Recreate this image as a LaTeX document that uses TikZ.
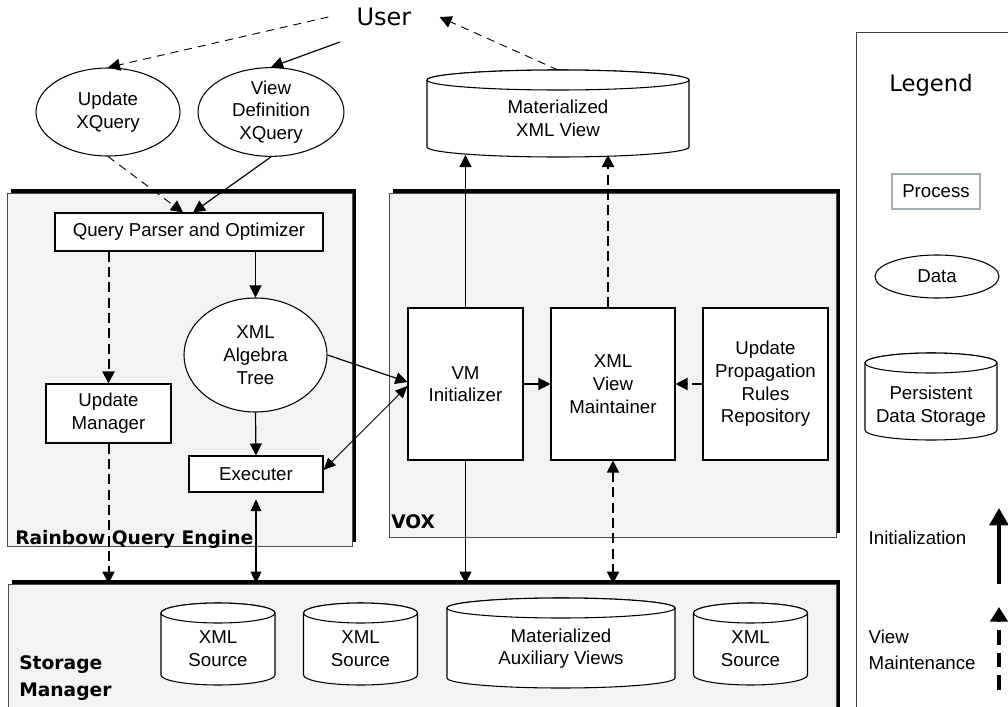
\documentclass[tikz,border=0pt]{standalone}
\usepackage{fontspec}
\setmainfont{Liberation Sans}
\newfontfamily\handfont{DejaVu Sans}
\usetikzlibrary{arrows.meta,positioning,shapes.geometric,shadows}

\definecolor{panelgray}{RGB}{242,243,242}
\definecolor{legendedge}{RGB}{160,176,180}

\def\ry{10}
% cylinder: name, centre x, top y, side bottom y, half width, text y, text
\newcommand{\datastore}[7]{%
  \draw[store] ({#2-#5},{-#3-\ry}) -- ({#2-#5},{-#4})
    arc[start angle=180,end angle=360,x radius=#5,y radius=\ry]
    -- ({#2+#5},{-#3-\ry})
    arc[start angle=0,end angle=180,x radius=#5,y radius=\ry] -- cycle;
  \draw[store] (#2,{-#3-\ry}) ellipse[x radius=#5,y radius=\ry];
  \node (#1) at (#2,-#6) {#7};
  \coordinate (#1-top) at (#2,-#3);
  \coordinate (#1-base) at (#2,{-#4-0.8*\ry});
}

\begin{document}
\begin{tikzpicture}[x=0.75pt,y=0.75pt,
  every node/.style={font=\fontsize{14}{17}\selectfont,align=center},
  process/.style={draw,fill=white,line width=0.8pt,inner sep=0pt},
  data/.style={draw,fill=white,ellipse,line width=0.8pt,inner sep=0pt},
  store/.style={draw,fill=white,line width=0.8pt},
  panel/.style={draw=black!70,fill=panelgray,line width=0.6pt,inner sep=0pt,
    drop shadow={shadow xshift=3pt,shadow yshift=3pt,fill=black,opacity=1}},
  hand/.style={font=\handfont\bfseries\fontsize{14}{17}\selectfont,align=left,inner sep=0pt},
  init/.style={-{Triangle[length=9pt,width=9pt]},line width=0.9pt},
  maint/.style={init,dash pattern=on 7.5pt off 4pt,line width=1.5pt},
  ask/.style={init,dash pattern=on 6pt off 4.5pt,line width=0.7pt},
  both/.style={{Triangle[length=9pt,width=8pt]}-{Triangle[length=9pt,width=8pt]},line width=0.6pt},
]
\useasboundingbox (0,0) rectangle (1008,-707);

% frames
\node[panel,minimum width=258.75pt,minimum height=264.75pt] (rqe) at (179.5,-369.5) {};
\node[panel,minimum width=335.25pt,minimum height=258pt] (vox) at (612.5,-365) {};
\node[panel,minimum width=621pt,minimum height=109.5pt] (smg) at (422,-657) {};
\node[draw=black!75,line width=0.7pt,minimum width=119.25pt,minimum height=516pt] (lgd) at (935.5,-376) {};

\node[hand,anchor=base west] (rqe-title) at (15,-544) {Rainbow Query Engine};
\node[hand,anchor=base west] (vox-title) at (391,-528) {VOX};
\node[hand,anchor=west,font=\handfont\bfseries\fontsize{14}{20}\selectfont] (smg-title) at (19,-678) {Storage\\Manager};

% user side
\node[font=\handfont\fontsize{18}{20}\selectfont,inner xsep=21pt] (user) at (384,-17) {User};
\coordinate (usrc) at (340,-42);
\node[data,minimum width=108pt,minimum height=66pt] (uxq) at (108,-112) {Update\\XQuery};
\node[data,minimum width=109.5pt,minimum height=66pt] (vdx) at (271,-112) {View\\Definition\\XQuery};
\datastore{mxv}{558}{70}{147}{131}{118}{Materialized\\XML View}

% rainbow
\node[process,minimum width=201pt,minimum height=28.5pt] (qpo) at (189,-232) {Query Parser and Optimizer};
\node[process,minimum width=93.75pt,minimum height=44.25pt] (upm) at (108.5,-413.5) {Update\\Manager};
\node[data,minimum width=107.25pt,minimum height=85.5pt] (alg) at (255.5,-355) {XML\\Algebra\\Tree};
\node[process,minimum width=100.5pt,minimum height=27pt] (exe) at (256,-474) {Executer};

% vox
\node[process,minimum width=86.25pt,minimum height=114pt] (vmi) at (465.5,-384) {VM\\Initializer};
\node[process,minimum width=93pt,minimum height=114pt] (xvm) at (613,-384) {XML\\View\\Maintainer};
\node[process,minimum width=93.75pt,minimum height=114pt] (upr) at (765.5,-384) {Update\\Propagation\\Rules\\Repository};

% storage
\foreach \n/\cx in {xs1/218,xs2/360.5,xs3/750.5}
  \datastore{\n}{\cx}{603}{675}{57}{648.5}{XML\\Source};
\datastore{mav}{561}{598}{678}{114}{648.5}{Materialized\\Auxiliary Views}

% legend
\node[font=\handfont\fontsize{17}{20}\selectfont] (legend) at (931,-85) {Legend};
\node[process,draw=legendedge,minimum width=66pt,minimum height=26.25pt] (lgproc) at (936,-191.5) {Process};
\node[data,minimum width=93pt,minimum height=32.25pt] (lgdata) at (937,-276.5) {Data};
\datastore{lgstore}{931}{353}{430}{66}{406}{Persistent\\Data Storage}
\node[anchor=west] (lginit) at (864,-538) {Initialization};
\node[anchor=west,align=left,font=\fontsize{14}{19.5}\selectfont] (lgmaint) at (864,-650) {View\\Maintenance};
\coordinate (lginit-a) at (999,-584);
\coordinate (lginit-b) at (999,-508);
\coordinate (lgmaint-a) at (999,-690);
\coordinate (lgmaint-b) at (999,-607);
\draw[line width=3pt,-{Triangle[length=13pt,width=14pt]}] (lginit-a) -- (lginit-b);
\draw[line width=3pt,dash pattern=on 11pt off 6pt,-{Triangle[length=11pt,width=13pt]}] (lgmaint-a) -- (lgmaint-b);

% connectors
\draw[ask] (user.west) -- (uxq.north);
\draw[init] (usrc) -- (vdx.north);
\draw[ask] (mxv-top) -- (user.east);
\draw[ask] (uxq.south) -- ([xshift=-4.5pt]qpo.north);
\draw[init] (vdx.south) -- ([xshift=3pt]qpo.north);
\draw[maint] (upm.north |- qpo.south) -- (upm.north);
\draw[init] (alg.north |- qpo.south) -- (alg.north);
\draw[init] (alg.south) -- (exe.north);
\draw[init] (alg.east) -- ([yshift=1.5pt]vmi.west);
\draw[both] ([yshift=3pt]exe.east) -- ([yshift=-1.5pt]vmi.west);
\draw[init] (vmi.east) -- (xvm.west);
\draw[maint] (upr.west) -- (xvm.east);
\draw[init] (vmi.north) -- (vmi.north |- mxv-base);
\coordinate (xvm-up) at ([xshift=-3.75pt]xvm.north);
\draw[maint] (xvm-up) -- (xvm-up |- mxv-base);
\draw[maint] (upm.south) -- (upm.south |- smg.north);
\coordinate (exe-low) at ([yshift=-5pt]exe.south);
\draw[both,line width=0.8pt] (exe-low) -- (exe-low |- smg.north);
\draw[init] (vmi.south) -- (vmi.south |- smg.north);
\draw[maint,{Triangle[length=9pt,width=9pt]}-{Triangle[length=9pt,width=9pt]}] (xvm.south) -- (xvm.south |- smg.north);
\end{tikzpicture}
\end{document}
